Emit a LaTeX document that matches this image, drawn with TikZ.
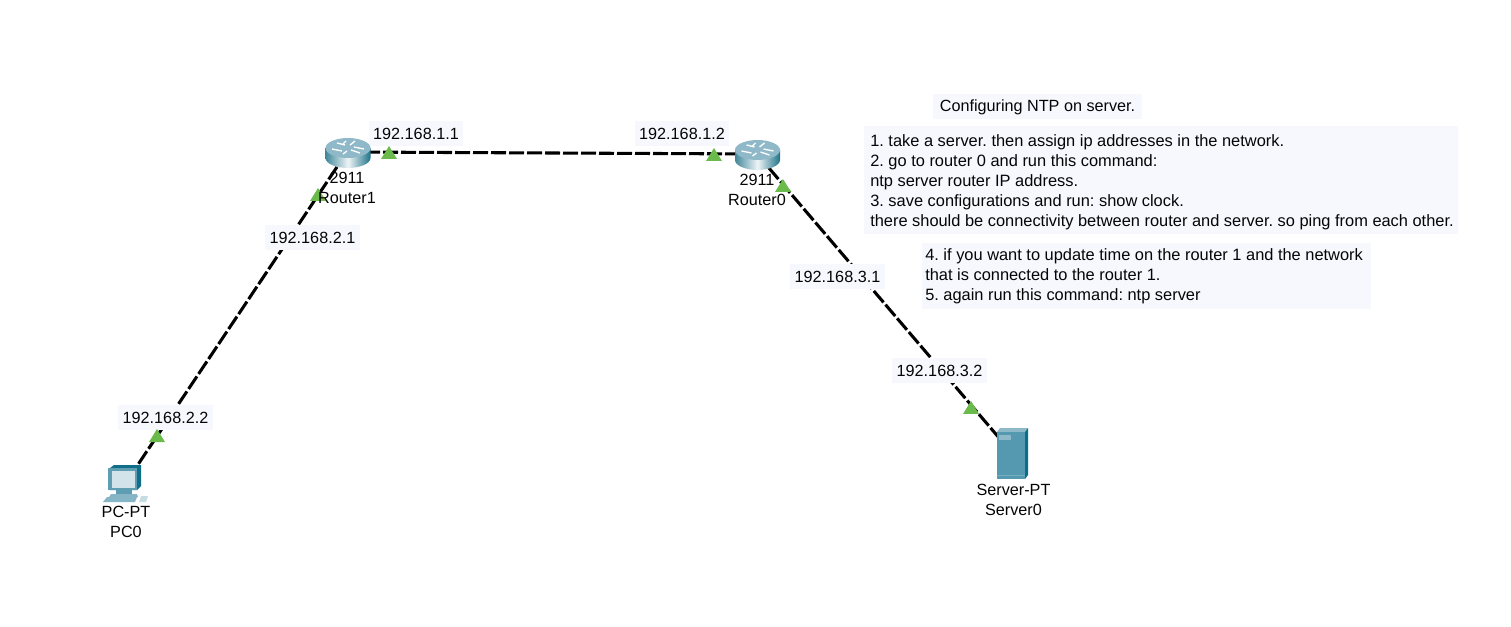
\documentclass[tikz,border=0pt]{standalone}
\usepackage{fontspec}
\setmainfont{Liberation Sans}
\usetikzlibrary{calc}
\definecolor{boxbg}{HTML}{F7F8FE}
\definecolor{tri}{HTML}{6ABB4B}
\definecolor{txt}{HTML}{050505}
\definecolor{rtop}{HTML}{8FB8C8}
\definecolor{rdark}{HTML}{1F7288}
\definecolor{pcb}{HTML}{5E9DB2}
\definecolor{pcd}{HTML}{0F6E88}
\definecolor{scr}{HTML}{D3E3EA}
\definecolor{srv}{HTML}{5499B0}
\definecolor{srvd}{HTML}{0A6F88}
\definecolor{srvt}{HTML}{8DB9C8}
\tikzset{
  x=0.75pt,y=-0.75pt,
  every node/.style={font=\fontsize{12.15}{15}\selectfont,text=txt},
  link/.style={line width=2.3pt,black,dash pattern=on 11.25pt off 2.25pt},
  lab/.style={fill=boxbg,inner sep=0pt,minimum width=71pt,minimum height=18.75pt},
  notebox/.style={fill=boxbg,inner sep=0pt,anchor=north west},
  note/.style={inner sep=0pt,align=left,anchor=north west,font=\fontsize{12.3}{15}\selectfont},
  plain/.style={inner sep=0pt,align=center},
  port/.style={fill=tri,draw=none},
}
\newcommand{\porttri}[2]{\fill[port] (#1-8,#2+6) -- (#1,#2-7) -- (#1+8,#2+6) -- cycle;}
% #1,#2 = centre of the top ellipse
\newcommand{\routericon}[2]{%
  \begin{scope}[shift={(#1,#2)}]
    \shade[left color=rdark!85!white,right color=rdark,middle color=white!85!rtop]
      (-22.5,0) -- (-22.5,10) .. controls (-22.5,16) and (-11,20) .. (0,20)
      .. controls (11,20) and (22.5,16) .. (22.5,10) -- (22.5,0) -- cycle;
    \fill[rtop] (-22.5,0) .. controls (-22.5,-6) and (-11,-10) .. (0,-10)
      .. controls (11,-10) and (22.5,-6) .. (22.5,0)
      .. controls (22.5,6) and (11,10) .. (0,10)
      .. controls (-11,10) and (-22.5,6) .. (-22.5,0) -- cycle;
    \draw[white,line width=1pt] (-16,1)--(-6,3) (-11,-5)--(-3,-3) (16,1)--(6,-1) (12,5)--(3,2)
      (-5,6)--(-1,3) (7,-7)--(2,-3) (-2,-7)--(-5,-4);
  \end{scope}}
\newcommand{\pcicon}[2]{%
  \begin{scope}[shift={(#1,#2)}]
    \fill[pcd] (-15,-16) -- (-11,-19) -- (16,-19) -- (16,2) -- (12,6) -- (-15,6) -- cycle;
    \fill[pcb] (-17,-16) -- (12,-16) -- (12,6) -- (-17,6) -- cycle;
    \fill[scr] (-13,-13) rectangle (10,4);
    \fill[pcb] (-9,6) rectangle (7,10);
    \fill[pcb!75!white] (-14,10) -- (12,10) -- (13,13) -- (-16,13) -- cycle;
    \fill[pcb!75!white] (-18,13) -- (12,13) -- (10,18) -- (-22,18) -- cycle;
    \fill[pcb!35!white] (16,12) -- (23,12) -- (21,18) -- (14,18) -- cycle;
  \end{scope}}
\newcommand{\servericon}[2]{%
  \begin{scope}[shift={(#1,#2)}]
    \fill[srvt] (-15,-21) -- (-12,-25) -- (16,-25) -- (13,-21) -- cycle;
    \fill[srvd] (13,-21) -- (16,-25) -- (16,22) -- (13,26) -- cycle;
    \fill[srv] (-15,-21) rectangle (13,26);
    \fill[srvt] (-13,-18) rectangle (-1,-13);
    \fill[srvt!60!srv] (-15,22) rectangle (13,23);
  \end{scope}}
\begin{document}
\begin{tikzpicture}
\frenchspacing
\useasboundingbox (0,0) rectangle (1511,627);
\fill[white] (0,0) rectangle (1511,627);
% device anchors
\coordinate (R1) at (347,152);
\coordinate (R0) at (757,154);
\coordinate (PC) at (125,484);
\coordinate (SV) at (1012,453);
% connectors
\draw[link] (R1) -- (R0);
\draw[link] (R1) -- (PC);
\draw[link] (R0) -- (SV);
% address labels
\node[lab] (a11) at (416,133.5) {192.168.1.1};
\node[lab] (a12) at (682,133.5) {192.168.1.2};
\node[lab] (a21) at (312.5,237.5) {192.168.2.1};
\node[lab] (a31) at (837.5,276.5) {192.168.3.1};
\node[lab] (a32) at (939.5,370.5) {192.168.3.2};
\node[lab] (a22) at (165.5,417.5) {192.168.2.2};
% icons
\routericon{348}{148}
\routericon{757.5}{150}
\pcicon{125}{484}
\servericon{1012}{453}
% link-state triangles
\porttri{389}{153}
\porttri{714}{155}
\porttri{318}{195}
\porttri{783}{186}
\porttri{157}{436}
\porttri{971}{408}
% device labels
\node[plain] (r1t) at (347,188) {2911\\[0pt]Router1};
\node[plain] (r0t) at (757,190) {2911\\[0pt]Router0};
\node[plain] (pct) at (126,522) {PC-PT\\[0pt]PC0};
\node[plain] (svt) at (1013.5,499.5) {Server-PT\\[0pt]Server0};
% notes
\node[fill=boxbg,inner sep=0pt,minimum width=156.75pt,minimum height=18.75pt] (title) at (1037.5,107) {Configuring NTP on server.};
\node[notebox,minimum width=445.5pt,minimum height=81pt] (n1box) at (864,126) {};
\node[note] (n1) at (870,134) {1. take a server. then assign ip addresses in the network.\\
2. go to router 0 and run this command:\\
ntp server router IP address.\\
3. save configurations and run: show clock.\\
there should be connectivity between router and server. so ping from each other.};
\node[notebox,minimum width=336.75pt,minimum height=49.5pt] (n2box) at (922,243) {};
\node[note] (n2) at (925,248) {4. if you want to update time on the router 1 and the network\\
that is connected to the router 1.\\
5. again run this command: ntp server};
\end{tikzpicture}
\end{document}
